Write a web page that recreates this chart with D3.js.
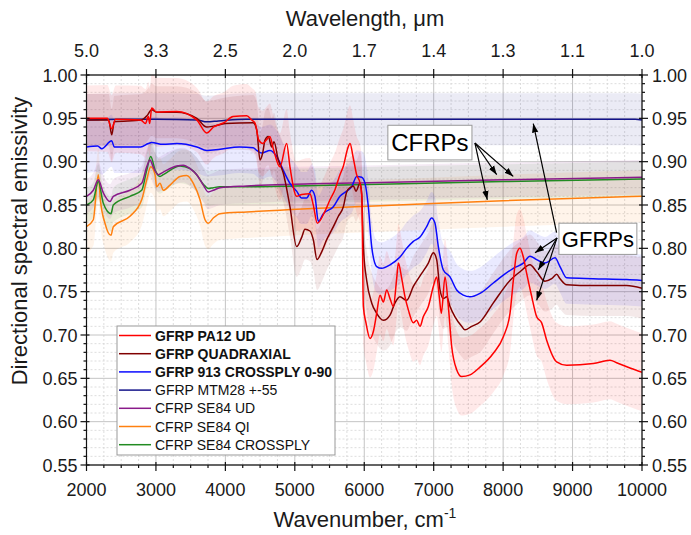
<!DOCTYPE html>
<html><head><meta charset="utf-8">
<script src="https://cdn.jsdelivr.net/npm/d3@7"></script>
<style>body{margin:0;background:#fff}svg{display:block}text{font-family:"Liberation Sans",Arial,sans-serif;fill:#1a1a1a}</style>
</head><body><svg id="c" width="691" height="535"></svg>
<script>
// ---------- DATA ----------
const xTicks = [2000,3000,4000,5000,6000,7000,8000,9000,10000];
const yTicks = [0.55,0.60,0.65,0.70,0.75,0.80,0.85,0.90,0.95,1.00];
const topTickLabels = ["5.0","3.3","2.5","2.0","1.7","1.4","1.3","1.1","1.0"];

const seriesNames = ["GFRP PA12 UD","GFRP QUADRAXIAL","GFRP 913 CROSSPLY 0-90","GFRP MTM28 +-55","CFRP SE84 UD","CFRP SE84 QI","CFRP SE84 CROSSPLY"];
const seriesColors = ["#ff0000","#800000","#0a0aff","#14148a","#8a1a8a","#ff8010","#228b22"];
const legendBold = [true,true,true,false,false,false,false];

const redX = [2000,2300,2363,2420,2780,2850,2890,2910,2939,3010,3300,3590,3731,3830,3980,4110,4307,4380,4430,4480,4540,4590,4640,4690,4786,4882,4930,5026,5100,5218,5266,5324,5430,5507,5580,5650,5700,5760,5795,5840,5890,5940,5965,5987,6025,6083,6131,6179,6227,6275,6323,6371,6419,6467,6491,6540,6587,6635,6707,6755,6803,6850,6923,6995,7043,7081,7110,7163,7211,7259,7331,7403,7523,7667,7859,8003,8099,8147,8195,8243,8291,8339,8410,8483,8555,8627,8771,8915,9299,9539,9635,9827,10000];
const redY = [0.950,0.950,0.938,0.949,0.948,0.944,0.952,0.944,0.962,0.957,0.958,0.948,0.933,0.940,0.945,0.952,0.953,0.948,0.944,0.925,0.921,0.925,0.929,0.915,0.894,0.921,0.894,0.860,0.862,0.863,0.850,0.829,0.842,0.856,0.868,0.885,0.895,0.915,0.921,0.905,0.885,0.875,0.860,0.733,0.714,0.696,0.704,0.725,0.746,0.738,0.752,0.742,0.733,0.765,0.783,0.765,0.744,0.729,0.714,0.717,0.710,0.721,0.733,0.756,0.767,0.744,0.725,0.767,0.733,0.687,0.660,0.652,0.654,0.663,0.679,0.698,0.725,0.763,0.794,0.800,0.790,0.771,0.745,0.721,0.714,0.694,0.669,0.665,0.667,0.671,0.668,0.662,0.657];

const darkRedX = [2000,2320,2363,2400,2790,2870,2939,3010,3300,3590,3731,3830,4000,4400,4451,4499,4537,4571,4618,4667,4700,4762,4834,4930,5026,5100,5146,5218,5266,5320,5387,5459,5555,5627,5699,5747,5795,5843,5880,5939,5963,5987,6035,6107,6179,6275,6371,6443,6515,6611,6707,6827,6923,6995,7043,7091,7139,7187,7235,7307,7403,7451,7547,7667,7859,8099,8243,8387,8483,8603,8699,8771,8819,8915,9299,9779,10000];
const darkRedY = [0.948,0.948,0.931,0.946,0.948,0.953,0.960,0.957,0.957,0.950,0.940,0.941,0.944,0.945,0.937,0.902,0.910,0.925,0.929,0.917,0.923,0.902,0.887,0.848,0.802,0.813,0.822,0.820,0.810,0.787,0.796,0.810,0.825,0.837,0.848,0.865,0.870,0.872,0.866,0.875,0.863,0.802,0.763,0.737,0.725,0.717,0.723,0.737,0.744,0.740,0.756,0.771,0.783,0.795,0.787,0.752,0.742,0.744,0.733,0.721,0.710,0.706,0.710,0.715,0.737,0.763,0.773,0.781,0.773,0.762,0.765,0.770,0.765,0.758,0.757,0.757,0.754];

const blueX = [2000,2160,2220,2363,2400,2780,2890,2939,3100,3300,3590,3731,3900,4200,4400,4451,4520,4643,4740,4834,4930,5026,5100,5170,5242,5290,5339,5411,5555,5650,5747,5819,5891,5963,6011,6059,6107,6179,6251,6371,6515,6611,6707,6803,6899,6971,7019,7067,7139,7235,7331,7427,7523,7667,7859,8003,8147,8291,8387,8483,8603,8747,8819,8915,9299,9779,10000];
const blueY = [0.917,0.918,0.915,0.924,0.917,0.917,0.921,0.922,0.920,0.921,0.917,0.913,0.914,0.917,0.916,0.913,0.910,0.913,0.906,0.890,0.875,0.866,0.858,0.858,0.867,0.860,0.831,0.840,0.848,0.860,0.866,0.871,0.883,0.882,0.875,0.848,0.802,0.779,0.777,0.781,0.790,0.800,0.808,0.813,0.825,0.835,0.829,0.802,0.775,0.767,0.752,0.746,0.744,0.748,0.760,0.769,0.777,0.783,0.791,0.787,0.783,0.789,0.779,0.766,0.765,0.764,0.763];

const navyX = [2000,2500,3000,3600,3730,3900,4300,5000,6000,7000,8000,9000,9900,10000];
const navyY = [0.948,0.949,0.949,0.948,0.946,0.947,0.949,0.949,0.949,0.949,0.949,0.949,0.949,0.948];

const purpleX = [2000,2098,2170,2242,2338,2386,2626,2795,2867,2915,2960,3034,3106,3299,3395,3491,3587,3682,3754,3826,3922,4307,5000,6227,8000,10000];
const purpleY = [0.860,0.867,0.879,0.864,0.854,0.860,0.867,0.875,0.894,0.902,0.894,0.885,0.888,0.895,0.896,0.892,0.885,0.873,0.865,0.867,0.870,0.872,0.874,0.876,0.879,0.882];

const orangeX = [2000,2098,2170,2200,2266,2353,2386,2626,2795,2867,2925,2987,3010,3058,3106,3203,3347,3443,3539,3635,3707,3754,3826,3922,4307,4786,5266,6227,8000,10000];
const orangeY = [0.825,0.833,0.885,0.856,0.829,0.815,0.825,0.837,0.856,0.879,0.894,0.885,0.871,0.875,0.867,0.873,0.883,0.884,0.875,0.856,0.833,0.829,0.835,0.840,0.842,0.844,0.846,0.849,0.855,0.860];

const greenX = [2000,2098,2170,2242,2353,2386,2626,2795,2867,2925,2990,3058,3106,3347,3491,3587,3682,3754,3826,3922,4307,5000,6227,8000,10000];
const greenY = [0.850,0.856,0.877,0.852,0.840,0.850,0.860,0.867,0.890,0.906,0.890,0.883,0.885,0.895,0.892,0.885,0.874,0.869,0.870,0.871,0.871,0.872,0.874,0.877,0.880];

// uncertainty band half-widths at these wavenumbers
const bandKnots = [2000,3000,4000,5000,6000,7000,8000,9000,10000];
const redBand     = [0.038,0.040,0.035,0.040,0.045,0.045,0.045,0.045,0.045];
const darkRedBand = [0.030,0.030,0.030,0.035,0.035,0.035,0.035,0.035,0.035];
const blueBand    = [0.030,0.030,0.030,0.030,0.030,0.030,0.030,0.030,0.030];
const navyBand    = [0.030,0.030,0.030,0.030,0.030,0.030,0.030,0.030,0.030];
const purpleBand  = [0.020,0.020,0.020,0.020,0.020,0.020,0.020,0.020,0.020];
const orangeBand  = [0.030,0.030,0.030,0.030,0.030,0.030,0.030,0.030,0.030];
const greenBand   = [0.020,0.020,0.020,0.020,0.020,0.020,0.020,0.020,0.020];

// ---------- CHART ----------
const m = {l:86.5, r:642, t:75, b:465};
const x = d3.scaleLinear().domain([2000,10000]).range([m.l,m.r]);
const y = d3.scaleLinear().domain([0.55,1.00]).range([m.b,m.t]);
const svg = d3.select("#c");

const series = [
  {xs:redX, ys:redY, band:redBand},
  {xs:darkRedX, ys:darkRedY, band:darkRedBand},
  {xs:blueX, ys:blueY, band:blueBand},
  {xs:navyX, ys:navyY, band:navyBand},
  {xs:purpleX, ys:purpleY, band:purpleBand},
  {xs:orangeX, ys:orangeY, band:orangeBand},
  {xs:greenX, ys:greenY, band:greenBand}
].map((s,i)=>({...s, name:seriesNames[i], color:seriesColors[i],
   pts:s.xs.map((v,j)=>[v,s.ys[j]]),
   hw:d3.scaleLinear().domain(bandKnots).range(s.band)}));

svg.append("defs").append("clipPath").attr("id","clip")
  .append("rect").attr("x",m.l).attr("y",m.t).attr("width",m.r-m.l).attr("height",m.b-m.t);

// grid
const minorX = d3.range(2000,10001,250).filter(v=>v%1000!==0);
const minorY = d3.range(55,101).filter(v=>v%5!==0).map(v=>v/100);
const g = svg.append("g");
g.selectAll(".mx").data(minorX).join("line").attr("x1",d=>x(d)).attr("x2",d=>x(d)).attr("y1",m.t).attr("y2",m.b)
  .attr("stroke","#d4d4d4").attr("stroke-dasharray","2,2").attr("stroke-width",0.8);
g.selectAll(".my").data(minorY).join("line").attr("y1",d=>y(d)).attr("y2",d=>y(d)).attr("x1",m.l).attr("x2",m.r)
  .attr("stroke","#d4d4d4").attr("stroke-dasharray","2,2").attr("stroke-width",0.8);
g.selectAll(".Mx").data(xTicks).join("line").attr("x1",d=>x(d)).attr("x2",d=>x(d)).attr("y1",m.t).attr("y2",m.b)
  .attr("stroke","#c4c4c4").attr("stroke-width",1);
g.selectAll(".My").data(yTicks).join("line").attr("y1",d=>y(d)).attr("y2",d=>y(d)).attr("x1",m.l).attr("x2",m.r)
  .attr("stroke","#c4c4c4").attr("stroke-width",1);

// bands
const plot = svg.append("g").attr("clip-path","url(#clip)");
const bandOrder = [3,5,6,4,2,1,0];
bandOrder.forEach(i=>{
  const s = series[i];
  const area = d3.area().x(d=>x(d[0])).y0(d=>y(d[1]-s.hw(d[0]))).y1(d=>y(d[1]+s.hw(d[0]))).curve(d3.curveMonotoneX);
  plot.append("path").attr("d",area(s.pts)).attr("fill",s.color).attr("fill-opacity",0.085);
});
// lines
const lineOrder = [5,6,4,3,2,1,0];
lineOrder.forEach(i=>{
  const s = series[i];
  const line = d3.line().x(d=>x(d[0])).y(d=>y(d[1])).curve(d3.curveMonotoneX);
  plot.append("path").attr("d",line(s.pts)).attr("fill","none").attr("stroke",s.color).attr("stroke-width",1.5);
});

// frame and ticks
const ax = svg.append("g").attr("stroke","#111").attr("stroke-width",1.2);
ax.append("rect").attr("x",m.l).attr("y",m.t).attr("width",m.r-m.l).attr("height",m.b-m.t).attr("fill","none");
xTicks.forEach(v=>{
  ax.append("line").attr("x1",x(v)).attr("x2",x(v)).attr("y1",m.b-3).attr("y2",m.b+6);
  ax.append("line").attr("x1",x(v)).attr("x2",x(v)).attr("y1",m.t-6).attr("y2",m.t+3);
});
minorX.forEach(v=>{
  ax.append("line").attr("x1",x(v)).attr("x2",x(v)).attr("y1",m.b).attr("y2",m.b+3);
});
yTicks.forEach(v=>{
  ax.append("line").attr("y1",y(v)).attr("y2",y(v)).attr("x1",m.l-6).attr("x2",m.l+3);
  ax.append("line").attr("y1",y(v)).attr("y2",y(v)).attr("x1",m.r-3).attr("x2",m.r+6);
});
minorY.forEach(v=>{
  ax.append("line").attr("y1",y(v)).attr("y2",y(v)).attr("x1",m.l-3).attr("x2",m.l);
  ax.append("line").attr("y1",y(v)).attr("y2",y(v)).attr("x1",m.r).attr("x2",m.r+3);
});

// tick labels
const fmt = d3.format(".2f");
svg.selectAll(".xl").data(xTicks).join("text").attr("x",d=>x(d)).attr("y",496).attr("text-anchor","middle").attr("font-size",18).text(d=>d);
svg.selectAll(".tl").data(xTicks).join("text").attr("x",d=>x(d)).attr("y",57).attr("text-anchor","middle").attr("font-size",18).text((d,i)=>topTickLabels[i]);
svg.selectAll(".yl").data(yTicks).join("text").attr("x",m.l-9).attr("y",d=>y(d)+6.5).attr("text-anchor","end").attr("font-size",18).text(d=>fmt(d));
svg.selectAll(".yr").data(yTicks).join("text").attr("x",m.r+10).attr("y",d=>y(d)+6.5).attr("text-anchor","start").attr("font-size",18).text(d=>fmt(d));

// axis titles
svg.append("text").attr("x",365).attr("y",26).attr("text-anchor","middle").attr("font-size",22).text("Wavelength, μm");
const xt = svg.append("text").attr("x",365).attr("y",527).attr("text-anchor","middle").attr("font-size",22);
xt.append("tspan").text("Wavenumber, cm");
xt.append("tspan").attr("dy",-9).attr("font-size",14).text("-1");
svg.append("text").attr("transform","translate(27,241) rotate(-90)").attr("text-anchor","middle").attr("font-size",22).text("Directional spectral emissivity");

// annotations
const defs = svg.select("defs");
defs.append("marker").attr("id","ah").attr("viewBox","0 0 10 10").attr("refX",10).attr("refY",5)
  .attr("markerWidth",9).attr("markerHeight",9).attr("markerUnits","userSpaceOnUse").attr("orient","auto")
  .append("path").attr("d","M0,1.5 L10,5 L0,8.5 Z").attr("fill","#000");
const ann = svg.append("g");
function arrow(x1,y1,x2,y2){
  ann.append("line").attr("x1",x(x1)).attr("y1",y(y1)).attr("x2",x(x2)).attr("y2",y(y2))
    .attr("stroke","#000").attr("stroke-width",1.2).attr("marker-end","url(#ah)");
}
// CFRPs
arrow(7594,0.9215,7907,0.885);
arrow(7594,0.9215,8146,0.883);
arrow(7594,0.9215,7772,0.856);
// GFRPs
arrow(8776,0.812,8459,0.795);
arrow(8776,0.812,8506,0.775);
arrow(8776,0.812,8483,0.740);
arrow(8770,0.818,8434,0.944);
function box(x0,y0,x1,y1,label,fs){
  ann.append("rect").attr("x",x(x0)).attr("y",y(y0)).attr("width",x(x1)-x(x0)).attr("height",y(y1)-y(y0))
    .attr("fill","#fff").attr("stroke","#999").attr("stroke-width",1);
  ann.append("text").attr("x",(x(x0)+x(x1))/2).attr("y",(y(y0)+y(y1))/2+fs*0.36).attr("text-anchor","middle")
    .attr("font-size",fs).style("fill","#000").text(label);
}
box(6340,0.942,7551,0.902,"CFRPs",24);
box(8804,0.829,9926,0.793,"GFRPs",22);

// legend
const lg = svg.append("g");
lg.append("rect").attr("x",117).attr("y",326).attr("width",218).attr("height",129).attr("fill","#fff").attr("stroke","#999").attr("stroke-width",1);
series.forEach((s,i)=>{
  const yy = 335.5 + i*18.2;
  lg.append("line").attr("x1",119).attr("x2",151).attr("y1",yy).attr("y2",yy).attr("stroke",s.color).attr("stroke-width",1.5);
  lg.append("text").attr("x",155).attr("y",yy+5).attr("font-size",14).attr("font-weight",legendBold[i]?"bold":"normal")
    .style("fill","#111").text(s.name);
});
</script></body></html>
